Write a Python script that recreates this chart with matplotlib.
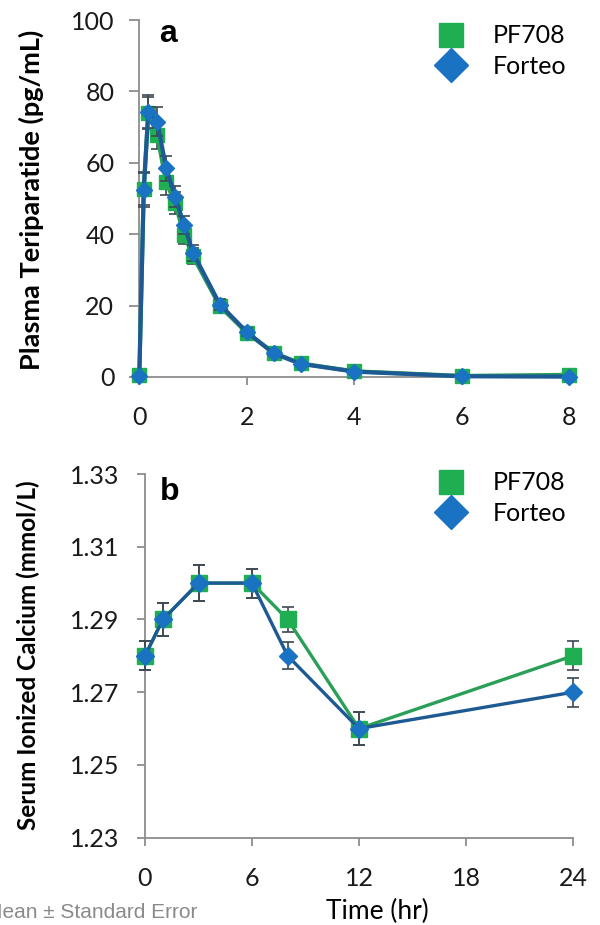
import matplotlib
matplotlib.use('Agg')
import matplotlib.pyplot as plt
from matplotlib.lines import Line2D

plt.rcParams['font.family'] = ['Lato', 'DejaVu Sans']

# ---- Panel a: plasma teriparatide PK ----
pk_time = [0, 0.083, 0.167, 0.333, 0.5, 0.667, 0.833, 1.0, 1.5, 2.0, 2.5, 3.0, 4.0, 6.0, 8.0]
pk_pf708 = [0.5, 52.8, 73.9, 67.8, 54.5, 48.7, 39.8, 33.8, 19.8, 12.4, 6.8, 3.8, 1.6, 0.3, 0.6]
pk_pf708_se = [0.2, 4.5, 4.5, 4.0, 3.5, 3.0, 2.5, 2.2, 1.5, 1.0, 0.8, 0.5, 0.3, 0.1, 0.2]
pk_forteo = [0.3, 52.4, 74.3, 71.5, 58.5, 50.5, 42.6, 34.8, 20.3, 12.6, 6.6, 3.7, 1.5, 0.2, 0.1]
pk_forteo_se = [0.2, 4.8, 4.6, 4.0, 3.5, 3.0, 2.6, 2.2, 1.5, 1.0, 0.8, 0.5, 0.3, 0.1, 0.1]
pk_xticks = [0, 2, 4, 6, 8]
pk_yticks = [0, 20, 40, 60, 80, 100]

# ---- Panel b: serum ionized calcium ----
ca_time = [0, 1, 3, 6, 8, 12, 24]
ca_pf708 = [1.28, 1.29, 1.30, 1.30, 1.29, 1.26, 1.28]
ca_pf708_se = [0.004, 0.0045, 0.005, 0.004, 0.0035, 0.0045, 0.004]
ca_forteo = [1.28, 1.29, 1.30, 1.30, 1.28, 1.26, 1.27]
ca_forteo_se = [0.004, 0.0045, 0.005, 0.004, 0.0037, 0.0045, 0.004]
ca_xticks = [0, 6, 12, 18, 24]
ca_yticks = [1.23, 1.25, 1.27, 1.29, 1.31, 1.33]
ca_yticklabels = ['1.23', '1.25', '1.27', '1.29', '1.31', '1.33']

series_names = ['PF708', 'Forteo']

GREEN = '#1fae52'
GREEN_LINE = '#2a9f57'
BLUE = '#1a72c2'
BLUE_LINE = '#1d5a93'
ERR = '#3d4852'
SPINE = '#8c8c8c'

W, H = 600, 925
fig = plt.figure(figsize=(W / 100, H / 100), dpi=100)

ax1 = fig.add_axes([139.3 / W, (H - 377) / H, 430 / W, 357 / H])
ax2 = fig.add_axes([145 / W, (H - 837.7) / H, 428 / W, 363.7 / H])


def style(ax, ylen, ypad, xlen, xpad):
    for s in ['top', 'right']:
        ax.spines[s].set_visible(False)
    for s in ['left', 'bottom']:
        ax.spines[s].set_color(SPINE)
        ax.spines[s].set_linewidth(1.3)
    ax.tick_params(axis='y', direction='out', length=ylen, width=1.3, color=SPINE,
                   pad=ypad, labelsize=18, labelcolor='#1a1a1a')
    ax.tick_params(axis='x', direction='out', length=xlen, width=1.3, color=SPINE,
                   pad=xpad, labelsize=18, labelcolor='#1a1a1a')


# Panel a
ax1.errorbar(pk_time, pk_pf708, yerr=pk_pf708_se, color=GREEN_LINE, lw=3.0,
             marker='s', ms=10.5, mfc=GREEN, mec=GREEN, ecolor=ERR, elinewidth=1.2,
             capsize=4, capthick=1.2, clip_on=False, zorder=3)
ax1.errorbar(pk_time, pk_forteo, yerr=pk_forteo_se, color=BLUE_LINE, lw=3.0,
             marker='D', ms=8, mfc=BLUE, mec=BLUE, ecolor=ERR, elinewidth=1.2,
             capsize=4, capthick=1.2, clip_on=False, zorder=4)
ax1.set_xlim(0, 8)
ax1.set_ylim(0, 100)
ax1.set_xticks(pk_xticks)
ax1.set_yticks(pk_yticks)
style(ax1, 7, 11, 6, 15)

# Panel b
ax2.errorbar(ca_time, ca_pf708, yerr=ca_pf708_se, color=GREEN_LINE, lw=2.4,
             marker='s', ms=12, mfc=GREEN, mec=GREEN, ecolor=ERR, elinewidth=1.2,
             capsize=4, capthick=1.2, clip_on=False, zorder=3)
ax2.errorbar(ca_time, ca_forteo, yerr=ca_forteo_se, color=BLUE_LINE, lw=2.4,
             marker='D', ms=9, mfc=BLUE, mec=BLUE, ecolor=ERR, elinewidth=1.2,
             capsize=4, capthick=1.2, clip_on=False, zorder=4)
ax2.set_xlim(0, 24)
ax2.set_ylim(1.23, 1.33)
ax2.set_xticks(ca_xticks)
ax2.set_yticks(ca_yticks)
ax2.set_yticklabels(ca_yticklabels)
style(ax2, 6, 12.5, 6, 15)

# Legends
handles = [Line2D([], [], marker='s', ms=17, color=GREEN, linestyle='none'),
           Line2D([], [], marker='D', ms=17, color=BLUE, linestyle='none')]
for ax, yc in [(ax1, 51), (ax2, 498)]:
    ax.legend(handles, series_names, loc='center left',
              bbox_to_anchor=(438 / W, 1 - yc / H), bbox_transform=fig.transFigure,
              frameon=False, fontsize=18, handlelength=1.0, handletextpad=1.2,
              labelspacing=0.3, borderpad=0, borderaxespad=0)

# Panel letters
fig.text(168 / W, 1 - 34 / H, 'a', fontsize=23, fontweight='bold',
         family=['Liberation Sans', 'DejaVu Sans'], ha='center', va='center')
fig.text(170 / W, 1 - 492 / H, 'b', fontsize=23, fontweight='bold',
         family=['Liberation Sans', 'DejaVu Sans'], ha='center', va='center')

# Axis labels
fig.text(31 / W, 1 - 200 / H, 'Plasma Teriparatide (pg/mL)', rotation=90,
         fontsize=19.5, fontweight='bold', ha='center', va='center')
fig.text(28 / W, 1 - 655 / H, 'Serum Ionized Calcium (mmol/L)', rotation=90,
         fontsize=17.5, fontweight='bold', ha='center', va='center')
fig.text(377 / W, 1 - 911 / H, 'Time (hr)', fontsize=19, ha='center', va='center')
fig.text(197 / W, 1 - 912 / H, 'Mean \u00b1 Standard Error', fontsize=15,
         color='#8a8a8a', family=['Liberation Sans', 'DejaVu Sans'],
         ha='right', va='center')

fig.savefig('out.png', dpi=100)
